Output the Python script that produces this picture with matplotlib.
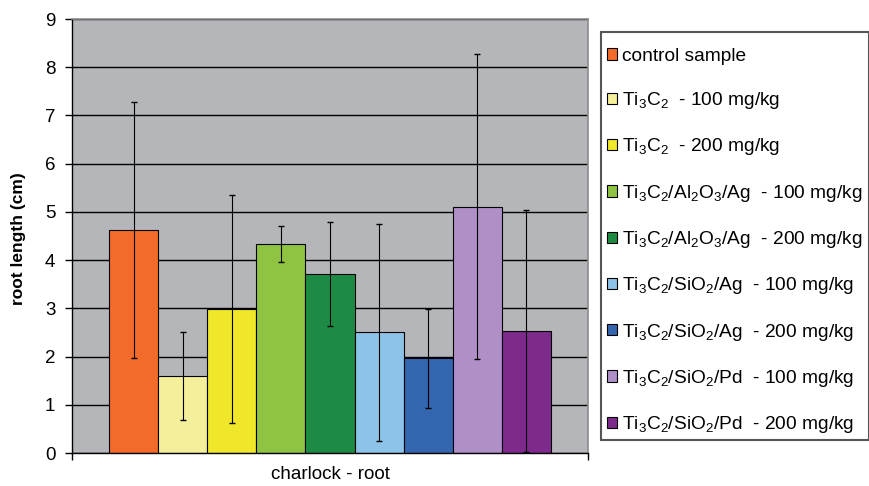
import matplotlib.pyplot as plt
from matplotlib.patches import Rectangle

plt.rcParams["font.family"] = ["Liberation Sans", "DejaVu Sans"]
plt.rcParams["mathtext.fontset"] = "custom"
plt.rcParams["mathtext.rm"] = "Liberation Sans"
plt.rcParams["mathtext.it"] = "Liberation Sans"

labels = [
    "control sample",
    r"Ti$_3$C$_2$  - 100 mg/kg",
    r"Ti$_3$C$_2$  - 200 mg/kg",
    r"Ti$_3$C$_2$/Al$_2$O$_3$/Ag  - 100 mg/kg",
    r"Ti$_3$C$_2$/Al$_2$O$_3$/Ag  - 200 mg/kg",
    r"Ti$_3$C$_2$/SiO$_2$/Ag  - 100 mg/kg",
    r"Ti$_3$C$_2$/SiO$_2$/Ag  - 200 mg/kg",
    r"Ti$_3$C$_2$/SiO$_2$/Pd  - 100 mg/kg",
    r"Ti$_3$C$_2$/SiO$_2$/Pd  - 200 mg/kg",
]
means = [4.63, 1.60, 2.98, 4.33, 3.71, 2.50, 1.96, 5.11, 2.53]
errors = [2.65, 0.91, 2.36, 0.37, 1.08, 2.25, 1.02, 3.16, 2.50]
colors = ["#f26b2a", "#f4ef9a", "#f0e62a", "#8fc442", "#1e8b45",
          "#8dc3e8", "#3466b0", "#b08fc6", "#7e2a8c"]
group = "charlock - root"

fig = plt.figure(figsize=(8.7, 4.86), dpi=100)
ax = fig.add_axes([72 / 870, 1 - 453 / 486, 516 / 870, 434 / 486])
ax.set_facecolor("#b5b6b9")

width = 0.095
n = len(means)
handles = []
for i in range(n):
    x = (i - (n - 1) / 2) * width
    b = ax.bar(x, means[i], width, color=colors[i], edgecolor="black",
               linewidth=0.8, zorder=2, label=labels[i])
    ax.errorbar(x, means[i], yerr=errors[i], fmt="none", ecolor="black",
                elinewidth=0.8, capsize=2.5, capthick=1.0, zorder=3)
    handles.append(b)

ax.set_xlim(-0.5, 0.5)
ax.set_ylim(0, 9)
ax.set_yticks(range(10))
ax.yaxis.grid(True, color="black", linewidth=1.0, zorder=1)
ax.set_axisbelow(True)
ax.tick_params(axis="y", labelsize=13.5, length=5, width=1, pad=7)
ax.set_xticks([0])
ax.set_xticklabels([group], fontsize=13.5)
ax.tick_params(axis="x", length=0, pad=9)
ax.set_xticks([-0.5, 0.5], minor=True)
ax.tick_params(axis="x", which="minor", length=5, width=1)

for side in ["top", "right"]:
    ax.spines[side].set_color("#8c8c8c")
    ax.spines[side].set_linewidth(1.2)
for side in ["left", "bottom"]:
    ax.spines[side].set_color("black")
    ax.spines[side].set_linewidth(1.0)

ax.set_ylabel("root length (cm)", fontsize=12.5, fontweight="bold")
ax.yaxis.set_label_coords((26 - 72) / 516, 0.495)

# legend frame drawn separately so the entries can sit as in the original
fig.patches.append(Rectangle((601 / 870, 1 - 440 / 486), 268 / 870, 408 / 486,
                             transform=fig.transFigure, facecolor="white",
                             edgecolor="#555555", linewidth=1.5, zorder=0))
leg = fig.legend(handles=handles, loc="upper left",
                 bbox_to_anchor=(601 / 870, 1 - 42 / 486),
                 fontsize=13.8, frameon=False,
                 handlelength=0.53, handleheight=0.53,
                 handletextpad=0.28, labelspacing=1.32, borderpad=0.3,
                 borderaxespad=0)

fig.savefig("out.png", dpi=100)
